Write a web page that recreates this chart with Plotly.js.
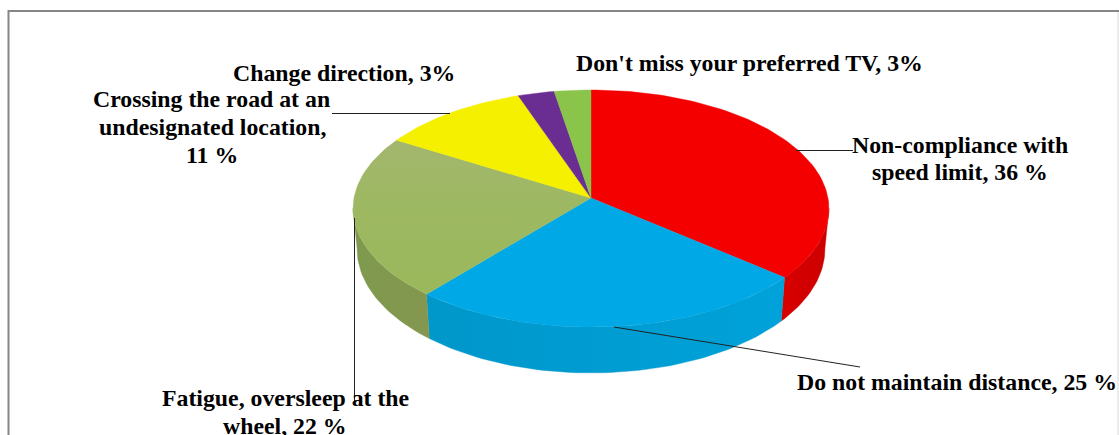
<!DOCTYPE html>
<html>
<head>
<meta charset="utf-8">
<script src="https://cdn.plot.ly/plotly-3.0.1.min.js"></script>
<style>html,body{margin:0;padding:0;background:#fff;overflow:hidden}</style>
</head>
<body>
<div id="chart" style="width:1119px;height:435px"></div>
<script>
// Data (clockwise from 12 o'clock)
const categories = ["Non-compliance with speed limit", "Do not maintain distance", "Fatigue, oversleep at the wheel", "Crossing the road at an undesignated location", "Change direction", "Don't miss your preferred TV"];
const values = [36, 25.2, 22.4, 11, 2.7, 2.7];
const topColors = ["#F40000", "#00A9E6", "#9DB862", "#F4F000", "#6A2D91", "#8AC44B"];
const sideColors = [["#D80000", "#CC0000"], ["#0097CA", "#00A2DA"], ["#7E9A4E", "#84964F"], ["#C4C000", "#C4C000"], ["#552474", "#552474"], ["#6E9D3C", "#6E9D3C"]];
const labelLines = ["Non-compliance with", "speed limit, 36 %", "Do not maintain distance, 25 %", "Fatigue, oversleep at the", "wheel, 22 %", "Crossing the road at an", "undesignated location,", "11 %", "Change direction, 3%", "Don't miss your preferred TV, 3%"];
const labelX = [960, 960, 956.5, 285.5, 285, 211, 212, 211.5, 343.5, 749.5];
const labelY = [144.5, 172, 381.5, 397.5, 425.5, 99, 127, 155, 72.5, 62.5];
const leaders = [[796, 150.5, 853, 150.5], [614, 327, 860, 367], [354.5, 218, 354.5, 403], [332, 113.5, 450, 113.5]];

// Perspective projection of the pie discs onto the page
const K = 0.0886;
const topRing = {cx: 591, cy: 198, a: 117.6, b: 237};
const lowRing = {cx: 591, cy: 238, a: 123, b: 233};
function project(r, deg) {
  const t = deg * Math.PI / 180, u = Math.sin(t), v = Math.cos(t), d = 1 + K * v;
  return [r.cx + r.b * u / d, r.cy - r.a * v / d];
}
function arc(r, d0, d1) {
  const n = Math.max(2, Math.ceil(Math.abs(d1 - d0) / 1.5)), out = [];
  for (let i = 0; i <= n; i++) out.push(project(r, d0 + (d1 - d0) * i / n));
  return out;
}
const total = values.reduce((a, b) => a + b, 0);
let cum = 0;
const slices = values.map((v, i) => {
  const s = {i, start: cum / total * 360};
  cum += v;
  s.end = cum / total * 360;
  return s;
});

const traces = [];
const SIDE_MIN = 95, SIDE_MAX = 265;
slices.forEach(s => {
  const a0 = Math.max(s.start, SIDE_MIN), a1 = Math.min(s.end, SIDE_MAX);
  if (a1 <= a0) return;
  const pts = arc(topRing, a0, a1).concat(arc(lowRing, a1, a0));
  pts.push(pts[0]);
  traces.push({
    type: "scatter", mode: "lines", x: pts.map(p => p[0]), y: pts.map(p => p[1]),
    fill: "toself", line: {width: 0.4, color: sideColors[s.i][0]},
    fillgradient: {type: "horizontal", colorscale: [[0, sideColors[s.i][0]], [1, sideColors[s.i][1]]]},
    hoverinfo: "skip", name: categories[s.i] + " side"
  });
});
slices.forEach(s => {
  const pts = [[topRing.cx, topRing.cy]].concat(arc(topRing, s.start, s.end));
  pts.push(pts[0]);
  const tr = {
    type: "scatter", mode: "lines", x: pts.map(p => p[0]), y: pts.map(p => p[1]),
    fill: "toself", fillcolor: topColors[s.i], line: {width: 0.4, color: topColors[s.i]},
    name: categories[s.i], text: values[s.i] + "%", hoverinfo: "name+text"
  };
  if (s.i === 2) {
    delete tr.fillcolor;
    tr.fillgradient = {type: "vertical", colorscale: [[0, "#9BB85C"], [0.6, "#9DB862"], [1, "#A3B66E"]]};
  }
  traces.push(tr);
});

const lineShape = (x0, y0, x1, y1, color, width) => ({type: "line", xref: "x", yref: "y", x0, y0, x1, y1, line: {color, width}, layer: "above"});
const shapes = leaders.map(l => lineShape(l[0], l[1], l[2], l[3], "#222222", 1));
shapes.push(lineShape(8.5, 11, 1119, 11, "#868686", 2));
shapes.push(lineShape(8.5, 10, 8.5, 435, "#868686", 2));
shapes.push(lineShape(1118, 12, 1118, 435, "#D9D9D9", 1));

const annotations = labelLines.map((t, i) => ({
  text: t, x: labelX[i], y: labelY[i], xref: "x", yref: "y",
  xanchor: "center", yanchor: "middle", showarrow: false, align: "center",
  font: {family: "Liberation Serif", size: 23.8, color: "#000000", weight: 700}
}));

const axis = {visible: false, fixedrange: true, showgrid: false, zeroline: false};
Plotly.newPlot("chart", traces, {
  width: 1119, height: 435,
  margin: {l: 0, r: 0, t: 0, b: 0},
  paper_bgcolor: "#FFFFFF", plot_bgcolor: "#FFFFFF",
  showlegend: false,
  xaxis: Object.assign({range: [0, 1119]}, axis),
  yaxis: Object.assign({range: [435, 0]}, axis),
  shapes, annotations
}, {displayModeBar: false});
</script>
</body>
</html>
